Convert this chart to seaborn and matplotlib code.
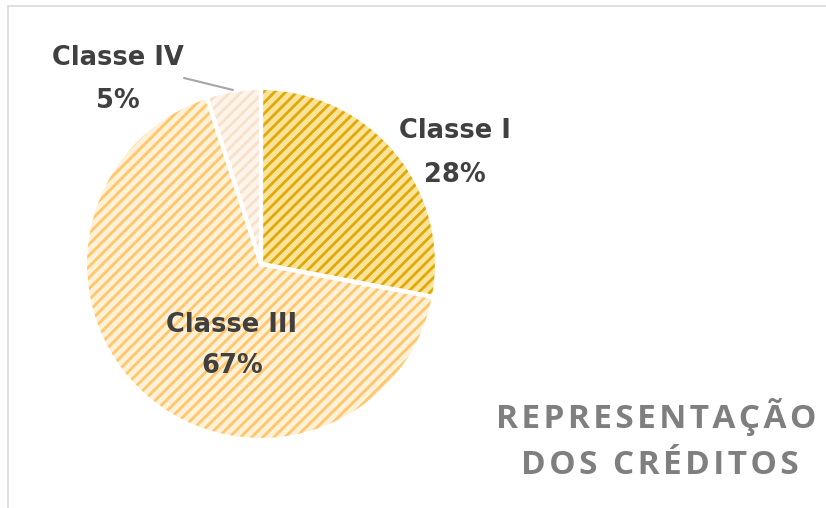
import matplotlib
matplotlib.use("Agg")
import matplotlib.pyplot as plt
import seaborn as sns
from matplotlib.patches import Rectangle

# Data
categories = ["Classe I", "Classe III", "Classe IV"]
values = [28, 67, 5]
labels_pct = ["28%", "67%", "5%"]
title_lines = ["REPRESENTAÇÃO", "DOS CRÉDITOS"]

face_colors = ["#fbe49a", "#fff0d8", "#fdf4ec"]
hatch_colors = ["#e0a90a", "#ffc66a", "#f9e0c8"]

sns.set_theme(style="white")
plt.rcParams["font.family"] = ["DejaVu Sans"]
plt.rcParams["hatch.linewidth"] = 2.0

W, H = 826, 508
fig = plt.figure(figsize=(W / 100, H / 100), dpi=100)
ax = fig.add_axes([0, 0, 1, 1])

cx, cy, r = 261, H - 264, 176

# hatched wedges
wedges, _ = ax.pie(values, startangle=90, counterclock=False, center=(cx, cy),
                   radius=r, colors=face_colors,
                   wedgeprops=dict(linewidth=0))
for w, hc in zip(wedges, hatch_colors):
    w.set_hatch("///")
    w.set_edgecolor(hc)
    w.set_linewidth(0)

# white separators
ax.pie(values, startangle=90, counterclock=False, center=(cx, cy), radius=r,
       colors=["none"] * 3,
       wedgeprops=dict(linewidth=3, edgecolor="white", fill=False))

ax.set_xlim(0, W)
ax.set_ylim(0, H)
ax.set_aspect("equal")
ax.axis("off")

# border (top and left visible)
ax.add_patch(Rectangle((8, -20), W + 40, H - 6 + 20, fill=False,
                       edgecolor="#d9d9d9", linewidth=1.2, clip_on=False))

# labels
lab_pos = [(455, 131, 175), (232, 325, 366), (118, 58, 101)]
for cat, pct, (x, y1, y2) in zip(categories, labels_pct, lab_pos):
    ax.text(x, H - y1, cat, ha="center", va="center", fontsize=18.5,
            fontweight="bold", color="#404040")
    ax.text(x, H - y2, pct, ha="center", va="center", fontsize=18.5,
            fontweight="bold", color="#404040")

# leader line for Classe IV
ax.plot([184, 233], [H - 78, H - 90], color="#a6a6a6", linewidth=1.5)

# title with letter spacing
sp = "\u200a"
tfont = ["Open Sans", "DejaVu Sans"]
ax.text(656, H - 417, sp.join(title_lines[0]), ha="center", va="center",
        fontsize=24, fontweight="bold", color="#7f7f7f", family=tfont)
ax.text(660, H - 465, sp.join(title_lines[1]), ha="center", va="center",
        fontsize=24, fontweight="bold", color="#7f7f7f", family=tfont)

fig.savefig("out.png", dpi=100)
